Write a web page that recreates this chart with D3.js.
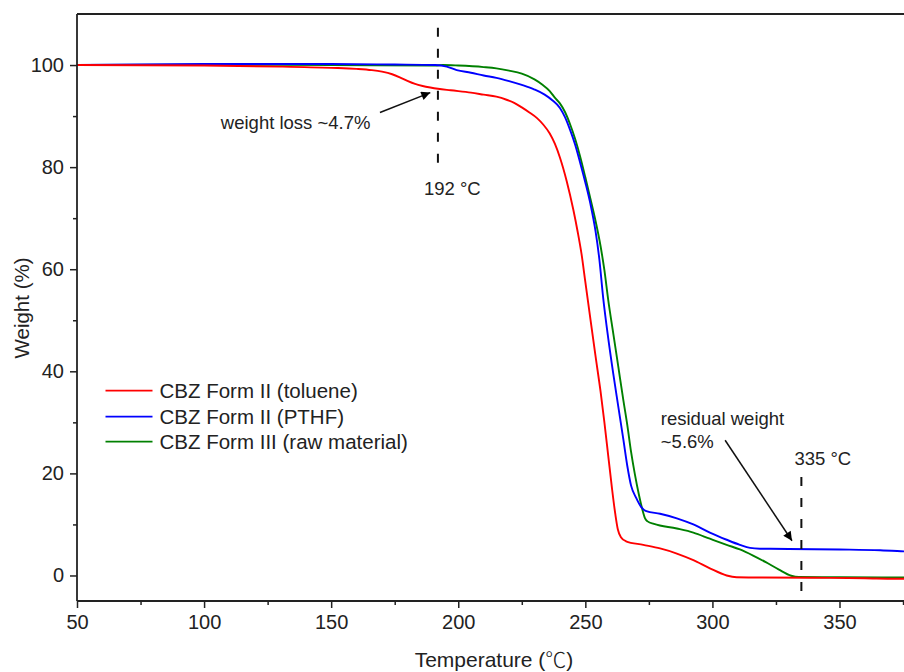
<!DOCTYPE html>
<html>
<head>
<meta charset="utf-8">
<script src="https://cdn.jsdelivr.net/npm/d3@7"></script>
<style>
  html, body { margin: 0; padding: 0; background: #ffffff; }
  svg { display: block; font-family: "Liberation Sans", Arial, sans-serif; }
</style>
</head>
<body>
<svg id="chart" width="904" height="672"></svg>
<script>
// ---------- data ----------
const seriesNames = ["CBZ Form II (toluene)", "CBZ Form II (PTHF)", "CBZ Form III (raw material)"];
const seriesColors = ["#ff0000", "#0000ff", "#008000"];

const tolueneT = [50, 100, 130, 150, 160, 166, 170, 174, 177, 180, 183, 186, 189, 192, 197, 205, 210, 215, 219, 222, 225, 228, 231, 233.5, 236, 238, 240, 242.7, 245.3, 247, 248.5, 250, 252, 254, 256, 257.5, 259, 260.5, 261.8, 262.8, 264, 266, 272.8, 279.4, 286, 292.5, 299, 305.6, 309.5, 318.7, 340, 360, 372, 380];
const tolueneW = [100, 99.9, 99.7, 99.45, 99.25, 99.0, 98.7, 98.2, 97.6, 96.9, 96.3, 95.9, 95.6, 95.35, 95.05, 94.6, 94.2, 93.8, 93.2, 92.6, 91.7, 90.7, 89.6, 88.3, 86.6, 84.6, 81.9, 77.2, 71.6, 67.3, 63.0, 57.5, 50.2, 43.0, 36.0, 30.0, 23.5, 17.0, 12.0, 9.0, 7.5, 6.7, 6.0, 5.3, 4.3, 3.0, 1.4, 0.0, -0.35, -0.4, -0.45, -0.55, -0.65, -0.65];

const pthfT = [50, 100, 150, 175, 191, 195.5, 199.4, 205, 210, 215, 220, 225, 230, 234, 237, 240, 242, 244, 246, 248, 250, 252, 254, 255.5, 257, 259, 261, 263, 265, 266.5, 268, 270, 272, 274, 279.4, 286, 292.5, 299, 305.6, 310.8, 314.8, 318.7, 330, 350, 366, 376, 380];
const pthfW = [100, 100.2, 100.2, 100.1, 100.0, 99.7, 99.0, 98.5, 97.95, 97.5, 96.85, 96.1, 95.2, 94.2, 93.1, 91.6, 89.8, 87.3, 84.4, 80.8, 77.0, 72.8, 67.5, 62.0, 54.5, 46.5, 39.5, 33.0, 26.5, 21.5, 17.6, 15.2, 13.4, 12.6, 12.1, 11.2, 10.0, 8.4, 7.0, 6.0, 5.4, 5.25, 5.2, 5.1, 4.95, 4.7, 4.6];

const rawT = [50, 100, 150, 191, 194, 200, 210, 215, 220, 225, 230, 233, 236, 238, 240, 242, 244, 246, 248, 250, 252, 254, 256, 257.5, 259, 261, 263, 265, 266.5, 268, 269.5, 271, 272.5, 273.5, 274.5, 277, 286, 292.5, 299, 305.6, 310.8, 316, 321, 326, 331, 334, 350, 380];
const rawW = [100, 100.05, 100.0, 99.9, 100.0, 99.9, 99.6, 99.35, 98.9, 98.3, 97.2, 96.2, 94.9, 93.6, 92.5, 90.8, 88.4, 85.5, 82.0, 78.0, 73.8, 69.5, 64.5, 59.8, 54.0, 47.4, 40.8, 34.2, 29.5, 24.2, 19.8, 16.0, 12.8, 11.2, 10.6, 10.1, 9.2, 8.4, 7.2, 6.0, 5.1, 3.9, 2.6, 1.2, -0.05, -0.3, -0.35, -0.4];

const xTickValues = [50, 100, 150, 200, 250, 300, 350];
const yTickValues = [0, 20, 40, 60, 80, 100];
const xMinorTicks = [75, 125, 175, 225, 275, 325, 375];
const yMinorTicks = [10, 30, 50, 70, 90];

const markerTemps = [192, 335];
const markerLabels = ["192 °C", "335 °C"];

const xTitleMain = "Temperature (";
const xTitleUnit = "℃";
const xTitleEnd = ")";
const yTitle = "Weight (%)";

// ---------- layout ----------
const svg = d3.select("#chart");
const SW = 904, SH = 672;
const pLeft = 77, pTop = 14, pBottom = 601;

const x = d3.scaleLinear().domain([50, 380]).range([pLeft, 77 + 330 * (762.5 / 300)]);
const y = d3.scaleLinear().domain([-5, 110]).range([pBottom, pTop]);

svg.append("rect").attr("width", SW).attr("height", SH).attr("fill", "#ffffff");

const defs = svg.append("defs");
defs.append("clipPath").attr("id", "plotclip")
  .append("rect").attr("x", pLeft).attr("y", pTop).attr("width", SW - pLeft).attr("height", pBottom - pTop);

defs.append("marker").attr("id", "arrowhead")
  .attr("viewBox", "0 0 10 10").attr("refX", 10).attr("refY", 5)
  .attr("markerWidth", 12).attr("markerHeight", 9).attr("markerUnits", "userSpaceOnUse")
  .attr("orient", "auto")
  .append("path").attr("d", "M0,0 L10,5 L0,10 Z").attr("fill", "#000");

// ---------- curves ----------
const series = [
  { T: tolueneT, Wt: tolueneW },
  { T: pthfT, Wt: pthfW },
  { T: rawT, Wt: rawW }
];
const line = d3.line().x(d => x(d[0])).y(d => y(d[1])).curve(d3.curveMonotoneX);
const plot = svg.append("g").attr("clip-path", "url(#plotclip)");
[2, 1, 0].forEach(i => {
  const pts = series[i].T.map((t, k) => [t, series[i].Wt[k]]);
  plot.append("path").datum(pts)
    .attr("d", line).attr("fill", "none")
    .attr("stroke", seriesColors[i]).attr("stroke-width", 1.9)
    .attr("stroke-linejoin", "round");
});

// ---------- dashed markers ----------
const dash = "9,12";
svg.append("line")
  .attr("x1", x(markerTemps[0])).attr("x2", x(markerTemps[0]))
  .attr("y1", y(107.3)).attr("y2", y(79.5))
  .attr("stroke", "#111").attr("stroke-width", 2).attr("stroke-dasharray", dash);
svg.append("text").attr("x", x(markerTemps[0]) - 14).attr("y", y(74.5))
  .attr("font-size", 18.5).attr("fill", "#222").text(markerLabels[0]);
svg.append("line")
  .attr("x1", x(markerTemps[1])).attr("x2", x(markerTemps[1]))
  .attr("y1", y(19.3)).attr("y2", y(-5))
  .attr("stroke", "#111").attr("stroke-width", 2).attr("stroke-dasharray", dash);
svg.append("text").attr("x", x(markerTemps[1]) - 7).attr("y", y(21.6))
  .attr("font-size", 18.5).attr("fill", "#222").text(markerLabels[1]);

// ---------- annotations ----------
svg.append("text").attr("x", x(106.6)).attr("y", y(87.5))
  .attr("font-size", 18.5).attr("fill", "#222").text("weight loss ~4.7%");
svg.append("line")
  .attr("x1", x(169.2)).attr("y1", y(90.7)).attr("x2", x(189.0)).attr("y2", y(94.6))
  .attr("stroke", "#111").attr("stroke-width", 1.5).attr("marker-end", "url(#arrowhead)");

svg.append("text").attr("x", x(279.7)).attr("y", y(29.4))
  .attr("font-size", 18.5).attr("fill", "#222").text("residual weight");
svg.append("text").attr("x", x(279.7)).attr("y", y(24.95))
  .attr("font-size", 18.5).attr("fill", "#222").text("~5.6%");
svg.append("line")
  .attr("x1", x(305.0)).attr("y1", y(26.5)).attr("x2", x(331.3)).attr("y2", y(6.8))
  .attr("stroke", "#111").attr("stroke-width", 1.5).attr("marker-end", "url(#arrowhead)");

// ---------- axes ----------
const axisColor = "#222";
svg.append("line").attr("x1", pLeft).attr("x2", SW).attr("y1", pTop).attr("y2", pTop)
  .attr("stroke", axisColor).attr("stroke-width", 1.8);

const xAxis = svg.append("g").attr("transform", `translate(0,${pBottom})`)
  .call(d3.axisBottom(x).tickValues(xTickValues).tickSize(7).tickPadding(7).tickFormat(d3.format("d")));
svg.append("g").attr("transform", `translate(0,${pBottom})`)
  .call(d3.axisBottom(x).tickValues(xMinorTicks).tickSize(4).tickFormat(""))
  .call(g => g.select(".domain").remove());

const yAxis = svg.append("g").attr("transform", `translate(${pLeft},0)`)
  .call(d3.axisLeft(y).tickValues(yTickValues).tickSize(7).tickPadding(6).tickFormat(d3.format("d")));
svg.append("g").attr("transform", `translate(${pLeft},0)`)
  .call(d3.axisLeft(y).tickValues(yMinorTicks).tickSize(4).tickFormat(""))
  .call(g => g.select(".domain").remove());

xAxis.select(".domain").attr("d", `M${pLeft},0H${SW}`);
yAxis.select(".domain").attr("d", `M0,${pBottom}V${pTop}`);

svg.selectAll(".domain").attr("stroke", axisColor).attr("stroke-width", 1.8);
svg.selectAll(".tick line").attr("stroke", axisColor).attr("stroke-width", 1.5);
svg.selectAll(".tick text").attr("font-size", 20).attr("fill", "#222")
  .attr("font-family", "Liberation Sans, Arial, sans-serif");

const xt = svg.append("text").attr("x", 494).attr("y", 667).attr("text-anchor", "middle")
  .attr("font-size", 21).attr("fill", "#222");
xt.append("tspan").text(xTitleMain);
xt.append("tspan").attr("font-family", "Noto Sans CJK SC, sans-serif").attr("font-weight", 300).text(xTitleUnit);
xt.append("tspan").text(xTitleEnd);

svg.append("text").attr("transform", `translate(29,${308}) rotate(-90)`)
  .attr("text-anchor", "middle").attr("font-size", 20.5).attr("fill", "#222").text(yTitle);

// ---------- legend ----------
const legendY = [390.7, 416.7, 441.7];
const legend = svg.append("g");
seriesNames.forEach((name, i) => {
  legend.append("line").attr("x1", 105.5).attr("x2", 152.5)
    .attr("y1", legendY[i]).attr("y2", legendY[i])
    .attr("stroke", seriesColors[i]).attr("stroke-width", 1.8);
  legend.append("text").attr("x", 159.5).attr("y", legendY[i]).attr("dy", "0.35em")
    .attr("font-size", 20.5).attr("fill", "#222").text(name);
});
</script>
</body>
</html>
